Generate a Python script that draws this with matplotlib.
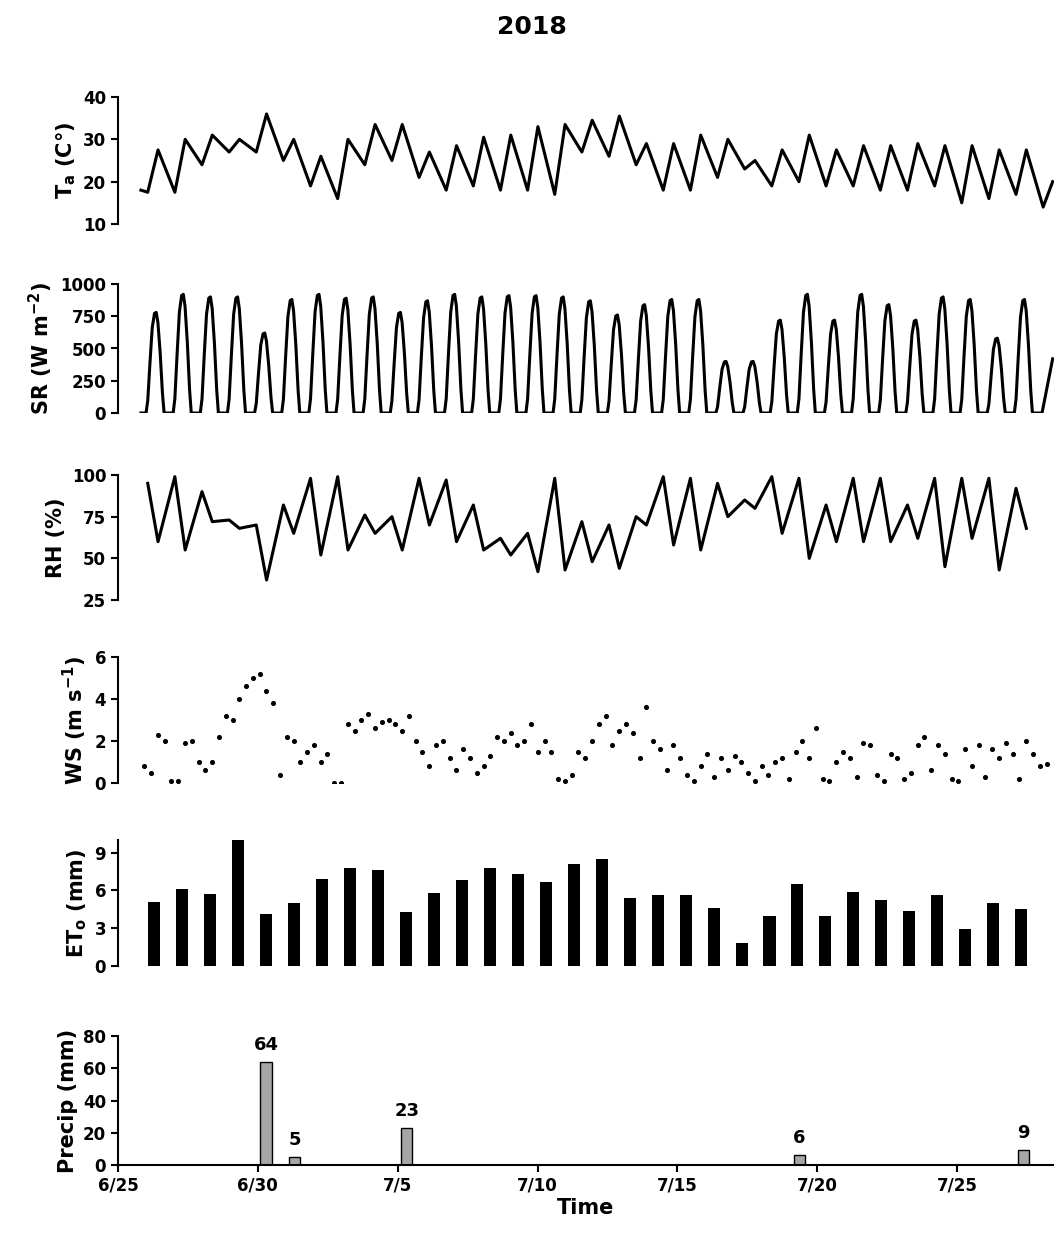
import matplotlib
matplotlib.use("Agg")
import matplotlib.pyplot as plt
import numpy as np

# x = days since 6/25 00:00
tick_pos = [0, 5, 10, 15, 20, 25, 30]
tick_lab = ["6/25", "6/30", "7/5", "7/10", "7/15", "7/20", "7/25"]

ta_min = [17.5, 17.5, 24, 27, 27, 25, 19, 16, 24, 25, 21, 18, 19, 18, 18, 17, 27,
          26, 24, 18, 18, 21, 23, 19, 20, 19, 19, 18, 18, 19, 15, 16, 17, 14]
ta_max = [27.5, 30, 31, 30, 36, 30, 26, 30, 33.5, 33.5, 27, 28.5, 30.5, 31, 33, 33.5,
          34.5, 35.5, 29, 29, 31, 30, 25, 27.5, 31, 27.5, 28.5, 28.5, 29, 28.5, 28.5,
          27.5, 27.5]
ta_start, ta_end = 18, 20

sr_peak = [780, 920, 900, 900, 620, 880, 920, 890, 900, 780, 870, 920, 900, 910, 910,
           900, 870, 760, 840, 880, 880, 400, 400, 720, 920, 720, 920, 840, 720, 900,
           880, 580, 880]
sr_hours = [4.5, 6, 8, 10, 12, 13.5, 15, 17, 19, 20.5]
sr_shape = [0, 0.12, 0.5, 0.85, 0.99, 1.0, 0.9, 0.6, 0.2, 0]
sr_end = 420

rh_max = [95, 99, 90, 73, 70, 82, 98, 99, 76, 75, 98, 97, 82, 62, 65, 98, 72, 70, 75,
          99, 98, 95, 85, 99, 98, 82, 98, 98, 82, 98, 98, 98, 92]
rh_min = [60, 55, 72, 68, 37, 65, 52, 55, 65, 55, 70, 60, 55, 52, 42, 43, 48, 44, 70,
          58, 55, 75, 80, 65, 50, 60, 60, 60, 62, 45, 62, 43, 68]

ws = [0.8,0.5,2.3,2.0, 0.1,0.1,1.9,2.0, 1.0,0.6,1.0,2.2, 3.2,3.0,4.0,4.6,
      5.0,5.2,4.4,3.8, 0.4,2.2,2.0,1.0, 1.5,1.8,1.0,1.4, 0.0,0.0,2.8,2.5,
      3.0,3.3,2.6,2.9, 3.0,2.8,2.5,3.2, 2.0,1.5,0.8,1.8, 2.0,1.2,0.6,1.6,
      1.2,0.5,0.8,1.3, 2.2,2.0,2.4,1.8, 2.0,2.8,1.5,2.0, 1.5,0.2,0.1,0.4,
      1.5,1.2,2.0,2.8, 3.2,1.8,2.5,2.8, 2.4,1.2,3.6,2.0, 1.6,0.6,1.8,1.2,
      0.4,0.1,0.8,1.4, 0.3,1.2,0.6,1.3, 1.0,0.5,0.1,0.8, 0.4,1.0,1.2,0.2,
      1.5,2.0,1.2,2.6, 0.2,0.1,1.0,1.5, 1.2,0.3,1.9,1.8, 0.4,0.1,1.4,1.2,
      0.2,0.5,1.8,2.2, 0.6,1.8,1.4,0.2, 0.1,1.6,0.8,1.8, 0.3,1.6,1.2,1.9,
      1.4,0.2,2.0,1.4, 0.8,0.9]

eto = [5.1, 6.1, 5.7, 10.0, 4.1, 5.0, 6.9, 7.8, 7.6, 4.3, 5.8, 6.8, 7.8, 7.3, 6.7, 8.1,
       8.5, 5.4, 5.6, 5.6, 4.6, 1.8, 4.0, 6.5, 4.0, 5.9, 5.2, 4.4, 5.6, 2.9, 5.0, 4.5]

precip_day = [5.29, 6.32, 10.32, 24.36, 32.36]
precip_val = [64, 5, 23, 6, 9]

XMIN, XMAX = 0.0, 33.46
T0, TS = 0.82, 0.97   # start of record and period length (days)
def tx(p):
    return T0 + TS * p

W, H = 1054, 1240
fig = plt.figure(figsize=(W/100, H/100), dpi=100)
fig.text(0.505, 1-27/H, "2018", ha="center", va="center", fontsize=18, fontweight="bold")

def mkax(ytop, ybot):
    ax = fig.add_axes([118/W, 1-ybot/H, (1054-118)/W, (ybot-ytop)/H])
    for s in ["top", "right"]:
        ax.spines[s].set_visible(False)
    ax.spines["left"].set_linewidth(1.5)
    ax.tick_params(axis="y", labelsize=12, width=1.5, length=5)
    return ax

def hide_x(ax):
    ax.spines["bottom"].set_visible(False)
    ax.set_xticks([])

def boldy(ax):
    for lab in ax.get_yticklabels():
        lab.set_fontweight("bold")

lw = 2.2
# Ta
ax = mkax(97, 224)
t, v = [0.0], [ta_start]
for d in range(len(ta_min)):
    t.append(d + 0.25); v.append(ta_min[d])
    if d < len(ta_max):
        t.append(d + 0.63); v.append(ta_max[d])
t.append(33.6); v.append(ta_end)
ax.plot([tx(p) for p in t], v, color="black", lw=lw)
ax.set_ylim(10, 40); ax.set_yticks([10, 20, 30, 40]); ax.set_xlim(XMIN, XMAX); hide_x(ax)
ax.set_ylabel("T$_\\mathregular{a}$ (C°)", fontsize=15, fontweight="bold")
boldy(ax)

# SR
ax = mkax(284, 413)
t, v = [0.0], [0]
for d, p in enumerate(sr_peak):
    for h, f in zip(sr_hours, sr_shape):
        t.append(d + h/24); v.append(p*f)
t.append(len(sr_peak) + 5/24); v.append(0)
t.append(33.6); v.append(sr_end)
ax.plot([tx(p) for p in t], v, color="black", lw=lw)
ax.set_ylim(0, 1000); ax.set_yticks([0, 250, 500, 750, 1000]); ax.set_xlim(XMIN, XMAX); hide_x(ax)
ax.set_ylabel("SR (W m$^{\\mathbf{-2}}$)", fontsize=15, fontweight="bold")
boldy(ax)

# RH
ax = mkax(475, 600)
t, v = [], []
for d in range(len(rh_max)):
    t.append(d + 0.25); v.append(rh_max[d])
    t.append(d + 0.63); v.append(rh_min[d])
ax.plot([tx(p) for p in t], v, color="black", lw=lw)
ax.set_ylim(25, 100); ax.set_yticks([25, 50, 75, 100]); ax.set_xlim(XMIN, XMAX); hide_x(ax)
ax.set_ylabel("RH (%)", fontsize=15, fontweight="bold")
boldy(ax)

# WS
ax = mkax(657, 783)
tw = [tx(0.125 + 0.25*i) for i in range(len(ws))]
ax.scatter(tw, ws, s=7, color="black")
ax.set_ylim(0, 6); ax.set_yticks([0, 2, 4, 6]); ax.set_xlim(XMIN, XMAX); hide_x(ax)
ax.set_ylabel("WS (m s$^{\\mathbf{-1}}$)", fontsize=15, fontweight="bold")
boldy(ax)

# ETo (one bar per day)
ax = mkax(840, 966)
eto_day = np.arange(len(eto)) + 1.29
ax.bar(eto_day, eto, width=0.43, color="black")
ax.set_xlim(XMIN, XMAX)
ax.set_ylim(0, 10); ax.set_yticks([0, 3, 6, 9]); hide_x(ax)
ax.set_ylabel("ET$_\\mathregular{o}$ (mm)", fontsize=15, fontweight="bold")
boldy(ax)

# Precip
ax = mkax(1036, 1165)
ax.bar(precip_day, precip_val, width=0.4, color="#a6a6a6", edgecolor="black", linewidth=1)
for x, y in zip(precip_day, precip_val):
    ax.text(x, y + 5, str(y), ha="center", va="bottom", fontsize=13, fontweight="bold")
ax.set_ylim(0, 80); ax.set_yticks([0, 20, 40, 60, 80]); ax.set_xlim(XMIN, XMAX)
ax.spines["bottom"].set_linewidth(1.5)
ax.set_xticks(tick_pos); ax.set_xticklabels(tick_lab, fontsize=12, fontweight="bold")
ax.tick_params(axis="x", width=1.5, length=5)
ax.set_xlabel("Time", fontsize=15, fontweight="bold", labelpad=2)
ax.set_ylabel("Precip (mm)", fontsize=15, fontweight="bold")
boldy(ax)

fig.align_ylabels(fig.axes)
fig.savefig("out.png", dpi=100)
